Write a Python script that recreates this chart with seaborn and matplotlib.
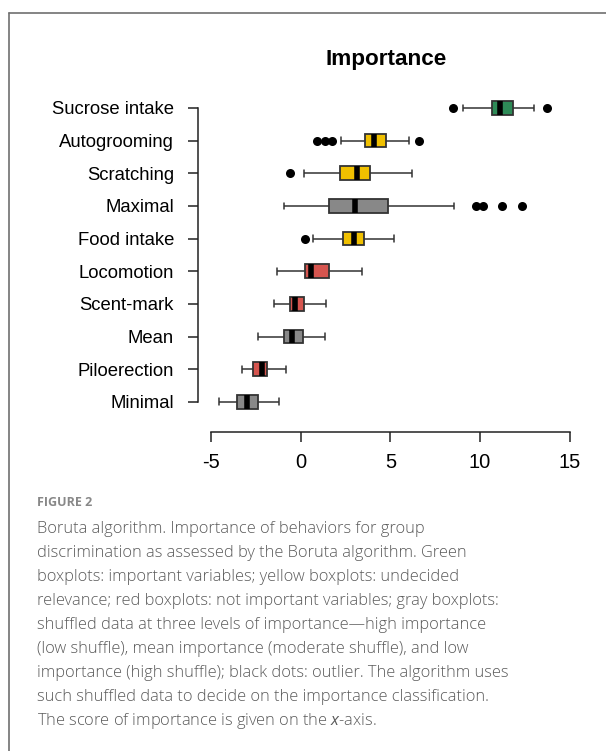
import pandas as pd
import seaborn as sns
import matplotlib.pyplot as plt
from matplotlib.lines import Line2D

# Boruta importance
labels = ["Sucrose intake", "Autogrooming", "Scratching", "Maximal", "Food intake",
          "Locomotion", "Scent-mark", "Mean", "Piloerection", "Minimal"]
whisker_lo = [9.03, 2.23, 0.17, -0.95, 0.65, -1.36, -1.49, -2.42, -3.28, -4.58]
q1 = [10.65, 3.56, 2.18, 1.58, 2.33, 0.22, -0.61, -0.97, -2.68, -3.58]
median = [11.12, 4.08, 3.13, 3.03, 2.94, 0.54, -0.34, -0.49, -2.18, -3.00]
q3 = [11.82, 4.73, 3.87, 4.84, 3.54, 1.58, 0.18, 0.13, -1.92, -2.39]
whisker_hi = [13.03, 6.01, 6.22, 8.57, 5.20, 3.43, 1.40, 1.34, -0.86, -1.25]
status = ["important", "undecided", "undecided", "shadow", "undecided",
          "rejected", "rejected", "shadow", "rejected", "shadow"]

outlier_label = ["Sucrose intake", "Sucrose intake",
                 "Autogrooming", "Autogrooming", "Autogrooming", "Autogrooming",
                 "Scratching",
                 "Maximal", "Maximal", "Maximal", "Maximal",
                 "Food intake"]
outlier_value = [8.50, 13.72,
                 0.88, 1.34, 1.75, 6.61,
                 -0.61,
                 9.76, 10.15, 11.25, 12.33,
                 0.22]

status_colors = {"important": "#2e8b57", "undecided": "#f0c000",
                 "rejected": "#d6554f", "shadow": "#888888"}

# five points per behaviour give exactly these quartiles and whisker ends
rows = []
for i, lab in enumerate(labels):
    for v in [whisker_lo[i], q1[i], median[i], q3[i], whisker_hi[i]]:
        rows.append({"behavior": lab, "score": v})
df = pd.DataFrame(rows)
df_out = pd.DataFrame({"behavior": outlier_label, "score": outlier_value})
palette = {lab: status_colors[s] for lab, s in zip(labels, status)}

sns.set_style("white")
plt.rcParams["font.family"] = ["Liberation Sans", "DejaVu Sans"]
plt.rcParams["mathtext.fontset"] = "custom"
plt.rcParams["mathtext.it"] = "Open Sans:italic"

fig = plt.figure(figsize=(6.06, 7.51), dpi=100)
ax = fig.add_axes([0.3267, 0.4248, 0.622, 0.4554])

sns.boxplot(data=df, x="score", y="behavior", hue="behavior", order=labels,
            palette=palette, legend=False, whis=(0, 100), showfliers=False,
            width=0.42, saturation=1, linecolor="#333333", linewidth=1.3,
            medianprops={"color": "black", "linewidth": 4},
            whiskerprops={"linewidth": 1.1}, capprops={"linewidth": 1.1}, ax=ax)
sns.stripplot(data=df_out, x="score", y="behavior", order=labels, jitter=False,
              color="black", size=6.5, linewidth=0, ax=ax)

ax.set_xlim(-5.75, 15.3)
ax.set_ylim(9.92, -0.55)
ax.set_xticks([-5, 0, 5, 10, 15])
ax.set_xticklabels(["-5", "0", "5", "10", "15"])
ax.set_xlabel("")
ax.set_ylabel("")

for side in ["top", "right"]:
    ax.spines[side].set_visible(False)
ax.spines["left"].set_bounds(0, 9)
ax.spines["bottom"].set_bounds(-5, 15)
for side in ["left", "bottom"]:
    ax.spines[side].set_color("#222222")
    ax.spines[side].set_linewidth(1.1)
ax.tick_params(axis="both", which="major", length=7.2, width=1.1, color="#222222",
               labelcolor="black", direction="out")
ax.tick_params(axis="y", pad=10, left=True, labelsize=13.3)
ax.tick_params(axis="x", pad=8, bottom=True, labelsize=14.5)
ax.set_title("Importance", fontsize=16.2, fontweight="bold", color="black", pad=18)

# panel frame (top and left edge)
fig.add_artist(Line2D([9 / 606, 1], [1 - 13 / 751, 1 - 13 / 751], color="#6f6f6f", lw=1.2))
fig.add_artist(Line2D([9 / 606, 9 / 606], [0, 1 - 13 / 751], color="#6f6f6f", lw=1.2))

caption = [
    "Boruta algorithm. Importance of behaviors for group",
    "discrimination as assessed by the Boruta algorithm. Green",
    "boxplots: important variables; yellow boxplots: undecided",
    "relevance; red boxplots: not important variables; gray boxplots:",
    "shuffled data at three levels of importance\u2014high importance",
    "(low shuffle), mean importance (moderate shuffle), and low",
    "importance (high shuffle); black dots: outlier. The algorithm uses",
    "such shuffled data to decide on the importance classification.",
]
cap_font = ["Open Sans", "DejaVu Sans"]
fig.text(37 / 606, 1 - 502 / 751, "FIGURE 2", family=cap_font,
         fontsize=9, fontweight="bold", color="#888888", va="center")
for k, line in enumerate(caption):
    fig.text(37 / 606, 1 - (529 + 24 * k) / 751, line, family=cap_font,
             fontsize=11.8, fontweight="light", color="#5a5a5a", va="center")
last_y = 1 - (529 + 24 * len(caption)) / 751
fig.text(37 / 606, last_y, "The score of importance is given on the $x$-axis.",
         family=cap_font, fontsize=11.8, fontweight="light",
         color="#5a5a5a", va="center")

fig.savefig("out.png", dpi=100)
